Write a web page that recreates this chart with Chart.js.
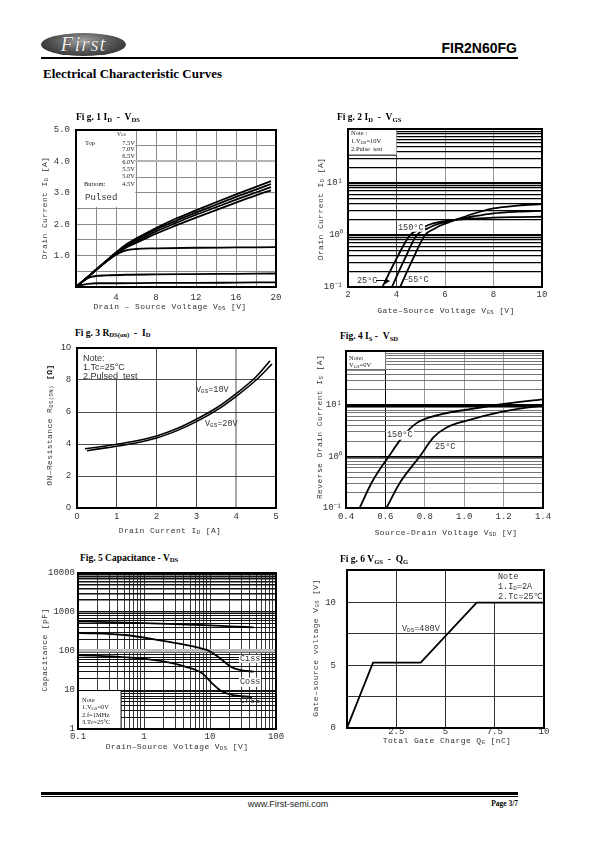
<!DOCTYPE html>
<html><head><meta charset="utf-8">
<script src="https://cdn.jsdelivr.net/npm/chart.js@4/dist/chart.umd.min.js"></script>
<style>
html,body{margin:0;padding:0;background:#fff;}
body{width:595px;height:842px;position:relative;overflow:hidden;font-family:"Liberation Mono",monospace;color:#333;}
canvas{position:absolute;}
.t{position:absolute;white-space:nowrap;line-height:1;}
.l{transform:translate(0,-50%);}
.r{transform:translate(-100%,-50%);}
.c{transform:translate(-50%,-50%);}
.v{transform:translate(-50%,-50%) rotate(-90deg);}
.sb{font-size:70%;position:relative;top:0.25em;}
.ttl{font-family:"Liberation Serif",serif;font-weight:bold;font-size:9.5px;color:#000;}
.ax{font-size:8px;color:#333;letter-spacing:0.4px;}
.nt{font-family:"Liberation Serif",serif;font-size:6.5px;color:#222;}
.lb{font-size:8.5px;color:#333;}
.wb{background:#fff;padding:0 1px;}
.hl{position:absolute;background:#000;}
#logo{position:absolute;left:41px;top:33px;width:85px;height:23px;border-radius:50%;
 background:radial-gradient(ellipse at 50% 35%,#a5a5a5 0%,#5a5a5a 45%,#1c1c1c 100%);}
#logo span{position:absolute;left:50%;top:50%;transform:translate(-50%,-52%);font-family:"Liberation Serif",serif;font-style:italic;font-size:21px;color:#eee;letter-spacing:1px;text-shadow:0 0 1px #000;}
</style></head>
<body>
<div id="logo"><span>First</span></div>
<div class="t r" style="left:517px;top:48px;font-family:'Liberation Sans',sans-serif;font-weight:bold;font-size:14px;color:#000;">FIR2N60FG</div>
<div class="hl" style="left:41px;top:56.5px;width:477px;height:2px;"></div>
<div class="t l" style="left:43px;top:73px;font-family:'Liberation Serif',serif;font-weight:bold;font-size:13px;color:#000;">Electrical Characteristic Curves</div>

<!-- titles -->
<div class="t l ttl" style="left:76px;top:118px;">Fi g. 1 I<span class="sb">D</span>&nbsp; - &nbsp;V<span class="sb">DS</span></div>
<div class="t l ttl" style="left:337px;top:118px;">Fi g. 2 I<span class="sb">D</span>&nbsp; - &nbsp;V<span class="sb">GS</span></div>
<div class="t l ttl" style="left:75px;top:333.5px;">Fi g. 3 R<span class="sb">DS(on)</span>&nbsp; - &nbsp;I<span class="sb">D</span></div>
<div class="t l ttl" style="left:340px;top:337px;">Fig. 4 I<span class="sb">S</span> - &nbsp;V<span class="sb">SD</span></div>
<div class="t l ttl" style="left:80px;top:558.5px;">Fig. 5 Capacitance - V<span class="sb">DS</span></div>
<div class="t l ttl" style="left:340px;top:560px;">Fi g. 6 V<span class="sb">GS</span>&nbsp; - &nbsp;Q<span class="sb">G</span></div>

<!-- axis titles -->
<div class="t c ax" style="left:170px;top:307px;">Drain – Source Voltage V<span class="sb">DS</span> [V]</div>
<div class="t v ax" style="left:45px;top:208px;">Drain Current I<span class="sb">D</span> [A]</div>
<div class="t c ax" style="left:446px;top:311px;">Gate–Source Voltage V<span class="sb">GS</span> [V]</div>
<div class="t v ax" style="left:321px;top:209px;">Drain Current I<span class="sb">D</span> [A]</div>
<div class="t c ax" style="left:170px;top:531px;">Drain Current I<span class="sb">D</span> [A]</div>
<div class="t v ax" style="left:50px;top:425px;">ON–Resistance R<span class="sb">DS(ON)</span> <b style="color:#000">[Ω]</b></div>
<div class="t c ax" style="left:446px;top:533px;">Source–Drain Voltage V<span class="sb">SD</span> [V]</div>
<div class="t v ax" style="left:320px;top:427px;">Reverse Drain Current I<span class="sb">S</span> [A]</div>
<div class="t c ax" style="left:177px;top:747px;">Drain–Source Voltage V<span class="sb">DS</span> [V]</div>
<div class="t v ax" style="left:45px;top:650px;">Capacitance [pF]</div>
<div class="t c ax" style="left:447px;top:740.5px;">Total Gate Charge Q<span class="sb">G</span> [nC]</div>
<div class="t v ax" style="left:316px;top:648px;">Gate–source voltage V<span class="sb">GS</span> [V]</div>

<!-- fig1 legend -->
<div class="t l nt" style="left:117px;top:134.5px;font-size:5.5px;">V<span class="sb">GS</span></div>
<div class="t l nt" style="left:85px;top:142.5px;">Top</div>
<div class="t r nt" style="left:135px;top:142.5px;">7.5V</div>
<div class="t r nt" style="left:135px;top:149px;">7.0V</div>
<div class="t r nt" style="left:135px;top:155.5px;">6.5V</div>
<div class="t r nt" style="left:135px;top:162px;">6.0V</div>
<div class="t r nt" style="left:135px;top:169px;">5.5V</div>
<div class="t r nt" style="left:135px;top:176px;">5.0V</div>
<div class="t l nt" style="left:84px;top:183.5px;">Buttom:</div>
<div class="t r nt" style="left:135px;top:183.5px;">4.5V</div>
<div class="t l lb" style="left:85px;top:198px;font-size:9px;">Pulsed</div>

<!-- fig2 notes -->
<div class="t l nt" style="left:351px;top:133px;">Note :</div>
<div class="t l nt" style="left:351px;top:141px;">1.V<span class="sb">DS</span>=10V</div>
<div class="t l nt" style="left:351px;top:149px;">2.Pulse&nbsp; test</div>
<div class="t l lb wb" style="left:397px;top:227.5px;">150°C</div>
<div class="t l lb" style="left:357px;top:280.5px;">25°C</div>
<div class="hl" style="left:376px;top:280px;width:10px;height:1px;"></div>
<div style="position:absolute;left:385px;top:277.5px;width:0;height:0;border-top:3px solid transparent;border-bottom:3px solid transparent;border-left:5px solid #000;"></div>
<div class="t l lb" style="left:403px;top:279.5px;">−55°C</div>

<!-- fig3 notes -->
<div class="t l" style="left:83px;top:357.5px;font-family:'Liberation Sans',sans-serif;font-size:9px;color:#333;">Note:</div>
<div class="t l" style="left:83px;top:366.5px;font-family:'Liberation Sans',sans-serif;font-size:9px;color:#333;">1.Tc=25°C</div>
<div class="t l" style="left:83px;top:375.5px;font-family:'Liberation Sans',sans-serif;font-size:9px;color:#333;">2.Pulsed&nbsp; test</div>
<div class="t l lb" style="left:196px;top:390px;">V<span class="sb">GS</span>=10V</div>
<div class="t l lb" style="left:205px;top:423.5px;">V<span class="sb">GS</span>=20V</div>

<!-- fig4 notes -->
<div class="t l nt" style="left:349px;top:357.5px;">Note:</div>
<div class="t l nt" style="left:349px;top:364.5px;">V<span class="sb">GS</span>=0V</div>
<div class="t l lb wb" style="left:386px;top:435px;">150°C</div>
<div class="t l lb wb" style="left:434px;top:446.5px;">25°C</div>

<!-- fig5 notes -->
<div class="t l nt" style="left:82px;top:699.5px;">Note</div>
<div class="t l nt" style="left:82px;top:707px;">1.V<span class="sb">GS</span>=0V</div>
<div class="t l nt" style="left:82px;top:714.5px;">2.f=1MHz</div>
<div class="t l nt" style="left:82px;top:722px;">3.Tc=25°C</div>
<div class="t l lb wb" style="left:239px;top:658.5px;">Ciss</div>
<div class="t l lb wb" style="left:239px;top:682px;">Coss</div>
<div class="t l lb" style="left:240px;top:701px;">Crss</div>

<!-- fig6 notes -->
<div class="t l lb" style="left:498px;top:577px;">Note</div>
<div class="t l lb" style="left:498px;top:587px;">1.I<span class="sb">D</span>=2A</div>
<div class="t l lb" style="left:498px;top:597px;">2.Tc=25℃</div>
<div class="t l lb" style="left:402px;top:628.5px;">V<span class="sb">DS</span>=480V</div>

<!-- footer -->
<div class="hl" style="left:41px;top:791.5px;width:477px;height:3px;"></div>
<div class="hl" style="left:41px;top:796px;width:477px;height:1px;"></div>
<div class="t c" style="left:288px;top:804px;font-family:'Liberation Sans',sans-serif;font-size:9px;color:#222;">www.First-semi.com</div>
<div class="t r" style="left:518px;top:803.5px;font-family:'Liberation Serif',serif;font-weight:bold;font-size:7.5px;color:#000;">Page 3/7</div>

<script>
// ================= DATA =================
// Fig 1  ID - VDS
const f1Vds = [0, 1, 2, 3, 4, 5, 6, 8, 10, 12, 14, 16, 18, 19.5];
const f1Id75 = [0, 0.27, 0.55, 0.83, 1.10, 1.35, 1.54, 1.88, 2.18, 2.44, 2.70, 2.95, 3.19, 3.37];
const f1Id70 = [0, 0.27, 0.55, 0.82, 1.09, 1.32, 1.50, 1.83, 2.11, 2.37, 2.62, 2.87, 3.10, 3.28];
const f1Id65 = [0, 0.27, 0.54, 0.81, 1.07, 1.29, 1.45, 1.77, 2.04, 2.30, 2.54, 2.78, 3.01, 3.18];
const f1Id60 = [0, 0.27, 0.54, 0.80, 1.05, 1.25, 1.40, 1.70, 1.96, 2.21, 2.45, 2.69, 2.92, 3.08];
const f1Vds55 = [0, 1, 2, 3, 4, 5, 6, 8, 12, 16, 20];
const f1Id55 = [0, 0.27, 0.54, 0.80, 1.03, 1.17, 1.21, 1.23, 1.25, 1.26, 1.27];
const f1Vds50 = [0, 0.5, 1, 1.5, 2, 3, 5, 8, 12, 16, 20];
const f1Id50 = [0, 0.13, 0.25, 0.32, 0.35, 0.37, 0.39, 0.40, 0.41, 0.42, 0.43];
const f1Vds45 = [0, 0.5, 1, 1.5, 2, 4, 8, 12, 16, 20];
const f1Id45 = [0, 0.06, 0.09, 0.11, 0.12, 0.12, 0.13, 0.13, 0.14, 0.15];
const f1XLabels = [4, 8, 12, 16, 20];
const f1YLabels = [1, 2, 3, 4, 5];

// Fig 2  ID - VGS
const f2Vgs150 = [3.42, 3.94, 4.56, 5.0, 5.31, 5.8, 6.45, 7.2, 8, 9, 10];
const f2Id150 = [0.1, 0.31, 1.0, 1.3, 1.56, 1.8, 1.97, 2.08, 2.17, 2.22, 2.25];
const f2Vgs25 = [3.81, 4.29, 4.84, 5.3, 5.59, 6.0, 6.45, 7.2, 8, 9, 10];
const f2Id25 = [0.1, 0.31, 1.0, 1.35, 1.56, 1.78, 1.97, 2.3, 2.62, 2.82, 2.93];
const f2VgsM55 = [4.15, 4.63, 5.18, 5.6, 5.86, 6.1, 6.45, 7.2, 8, 9, 10];
const f2IdM55 = [0.1, 0.31, 1.0, 1.35, 1.56, 1.72, 1.97, 2.6, 3.26, 3.7, 3.95];
const f2XLabels = [2, 4, 6, 8, 10];
const f2YLabels = [0.1, 1, 10];

// Fig 3  RDS(on) - ID
const f3Id10 = [0.2, 0.5, 1, 1.5, 2, 2.5, 3, 3.5, 4, 4.5, 4.85];
const f3R10 = [3.70, 3.80, 3.98, 4.20, 4.50, 4.95, 5.55, 6.25, 7.15, 8.20, 9.20];
const f3Id20 = [0.25, 0.5, 1, 1.5, 2, 2.5, 3, 3.5, 4, 4.5, 4.9];
const f3R20 = [3.58, 3.68, 3.86, 4.08, 4.38, 4.82, 5.40, 6.10, 6.98, 8.00, 9.00];
const f3XLabels = [0, 1, 2, 3, 4, 5];
const f3YLabels = [0, 2, 4, 6, 8, 10];

// Fig 4  IS - VSD
const f4Vsd150 = [0.469, 0.532, 0.617, 0.693, 0.76, 0.828, 0.913, 1.048, 1.183, 1.4];
const f4Is150 = [0.1, 0.32, 1.0, 2.57, 4.5, 5.8, 7.0, 8.5, 10.3, 12.9];
const f4Vsd25 = [0.605, 0.676, 0.774, 0.845, 0.913, 1.014, 1.183, 1.4];
const f4Is25 = [0.1, 0.32, 1.0, 2.38, 3.7, 5.0, 7.3, 9.9];
const f4XLabels = [0.4, 0.6, 0.8, 1.0, 1.2, 1.4];
const f4YLabels = [0.1, 1, 10];

// Fig 5  Capacitance - VDS
const f5VCiss = [0.1, 0.3, 1, 3, 10, 20, 46];
const f5Ciss = [570, 550, 520, 490, 455, 430, 405];
const f5VCoss = [0.1, 0.52, 1.66, 5.3, 9.5, 12, 15.2, 21.5, 30, 46];
const f5Coss = [293, 257, 191, 134, 102, 80, 59, 38, 32, 29.6];
const f5VCrss = [0.1, 0.52, 1.66, 4.2, 7.6, 10.7, 15.2, 21.5, 43];
const f5Crss = [79, 69, 56.5, 40, 27, 15, 9.1, 7.5, 6.6];
const f5XLabels = [0.1, 1, 10, 100];
const f5YLabels = [1, 10, 100, 1000, 10000];

// Fig 6  VGS - QG
const f6Qg = [0, 1.32, 3.74, 6.58, 10];
const f6Vgs = [0, 5.22, 5.22, 10, 10];
const f6XLabels = [2.5, 5, 7.5, 10];
const f6YLabels = [0, 5, 10];

// ================= HELPERS =================
const PADL = 50, PADT = 8, PADR = 14, PADB = 24;
const pts = (xs, ys) => xs.map((x, i) => ({x: x, y: ys[i]}));
const near = (a, b) => Math.abs(a - b) <= 1e-9 * Math.max(1, Math.abs(b));
const has = (list, v) => list.some(t => near(v, t));
const range = (a, b, s) => { const r = []; for (let v = a; v <= b + 1e-9; v += s) r.push(+v.toFixed(6)); return r; };
const logGrid = (lo, hi) => { const r = []; for (let e = lo; e < hi; e++) for (let m = 1; m < 10; m++) r.push(+(m * Math.pow(10, e)).toPrecision(6)); r.push(+Math.pow(10, hi).toPrecision(6)); return r; };
const supTxt = v => ({0.1: '10\u207B\u00B9', 1: '10\u2070', 10: '10\u00B9'})[v];

const deco = {
  id: 'deco',
  beforeDatasetsDraw(chart, args, o) {
    const {ctx} = chart; const xs = chart.scales.x, ys = chart.scales.y;
    (o.masks || []).forEach(m => {
      const x0 = xs.getPixelForValue(m[0]), y0 = ys.getPixelForValue(m[1]);
      const x1 = xs.getPixelForValue(m[2]), y1 = ys.getPixelForValue(m[3]);
      const L = Math.min(x0, x1), R = Math.max(x0, x1), T = Math.min(y0, y1), B = Math.max(y0, y1);
      ctx.save(); ctx.fillStyle = '#fff'; ctx.fillRect(L, T, R - L, B - T);
      ctx.strokeStyle = '#000'; ctx.lineWidth = 1;
      const e = m[4] || '';
      ctx.beginPath();
      if (e.includes('b')) { ctx.moveTo(L, B); ctx.lineTo(R, B); }
      if (e.includes('t')) { ctx.moveTo(L, T); ctx.lineTo(R, T); }
      if (e.includes('r')) { ctx.moveTo(R, T); ctx.lineTo(R, B); }
      ctx.stroke(); ctx.restore();
    });
  },
  afterDatasetsDraw(chart) {
    const {ctx, chartArea: a} = chart;
    ctx.save(); ctx.strokeStyle = '#000'; ctx.lineWidth = 2;
    ctx.strokeRect(a.left, a.top, a.right - a.left, a.bottom - a.top); ctx.restore();
  }
};
Chart.register(deco);

function axis(spec, isX) {
  return {
    type: spec.type || 'linear', min: spec.min, max: spec.max,
    position: isX ? 'bottom' : 'left',
    afterBuildTicks: s => { s.ticks = spec.grid.map(v => ({value: v})); },
    afterFit: s => { if (isX) s.height = PADB; else s.width = PADL; s.paddingLeft = 0; s.paddingRight = 0; s.paddingTop = 0; s.paddingBottom = 0; },
    ticks: { autoSkip: false, maxRotation: 0, minRotation: 0, padding: spec.pad, color: '#333',
             font: {family: spec.fam || 'Liberation Mono', size: spec.fs || 9},
             callback: v => has(spec.labels, v) ? spec.fmt(v) : '' },
    grid: { drawTicks: false,
            color: c => spec.gc(c.tick ? c.tick.value : 0),
            lineWidth: c => spec.gw(c.tick ? c.tick.value : 0) },
    border: { display: false }
  };
}

function ds(data, w) {
  return { data: data, borderColor: '#000', borderWidth: w || 1.8, pointRadius: 0, fill: false, cubicInterpolationMode: 'monotone' };
}

function make(r, datasets, xs, ys, masks) {
  const c = document.createElement('canvas');
  const w = (r.R - r.L) + PADL + PADR, h = (r.B - r.T) + PADT + PADB;
  c.width = w; c.height = h;
  c.style.left = (r.L - PADL) + 'px'; c.style.top = (r.T - PADT) + 'px';
  c.style.width = w + 'px'; c.style.height = h + 'px';
  document.body.insertBefore(c, document.body.firstChild);
  new Chart(c, {
    type: 'line',
    data: { datasets: datasets },
    options: {
      responsive: false, animation: false, devicePixelRatio: 1,
      layout: { padding: {left: 0, top: PADT, right: PADR, bottom: 0} },
      plugins: { legend: {display: false}, tooltip: {enabled: false}, deco: {masks: masks || []} },
      scales: { x: axis(xs, true), y: axis(ys, false) }
    }
  });
}

// ================= FIG 1 =================
make({L: 76, T: 130, R: 276, B: 287},
  [ds(pts(f1Vds, f1Id75)), ds(pts(f1Vds, f1Id70)), ds(pts(f1Vds, f1Id65)), ds(pts(f1Vds, f1Id60)),
   ds(pts(f1Vds55, f1Id55)), ds(pts(f1Vds50, f1Id50)), ds(pts(f1Vds45, f1Id45))],
  {min: 0, max: 20, grid: range(0, 20, 2), labels: f1XLabels, fmt: v => String(v), pad: 5.5,
   gc: v => '#8a8a8a', gw: v => 1},
  {min: 0, max: 5, grid: range(0, 5, 0.5), labels: f1YLabels, fmt: v => v.toFixed(1), pad: 6,
   gc: v => near(v, 4) ? '#b5b5b5' : '#8a8a8a', gw: v => near(v, 4) ? 2 : 1},
  [[0, 2.55, 5.93, 5]]);

// ================= FIG 2 =================
make({L: 348, T: 129, R: 542, B: 287},
  [ds(pts(f2Vgs150, f2Id150)), ds(pts(f2Vgs25, f2Id25)), ds(pts(f2VgsM55, f2IdM55))],
  {min: 2, max: 10, grid: range(2, 10, 2), labels: f2XLabels, fmt: v => String(v), pad: 2,
   gc: v => near(v, 4) ? '#444' : '#9a9a9a', gw: v => 1},
  {type: 'logarithmic', min: 0.1, max: 110, grid: logGrid(-1, 2).concat([110]), labels: f2YLabels, fmt: supTxt, pad: 5,
   gc: v => '#000', gw: v => (near(v, 1) || near(v, 10)) ? 2.2 : 1.3},
  [[2, 34.5, 4, 110, 'b']]);

// ================= FIG 3 =================
make({L: 77, T: 348, R: 276, B: 508},
  [ds(pts(f3Id10, f3R10), 1.6), ds(pts(f3Id20, f3R20), 1.6)],
  {min: 0, max: 5, grid: range(0, 5, 1), labels: f3XLabels, fmt: v => String(v), pad: 3.5, fam: 'Liberation Sans',
   gc: v => near(v, 4) ? '#a8a8a8' : '#222', gw: v => near(v, 4) ? 2 : 0.8},
  {min: 0, max: 10, grid: range(0, 10, 2), labels: f3YLabels, fmt: v => String(v), pad: 6, fam: 'Liberation Sans',
   gc: v => '#222', gw: v => 0.8},
  [[0, 8.06, 1.6, 10]]);

// ================= FIG 4 =================
make({L: 346, T: 351, R: 543, B: 508},
  [ds(pts(f4Vsd150, f4Is150)), ds(pts(f4Vsd25, f4Is25))],
  {min: 0.4, max: 1.4, grid: range(0.4, 1.4, 0.2), labels: f4XLabels, fmt: v => v.toFixed(1), pad: 3.5,
   gc: v => near(v, 0.6) ? '#000' : '#9a9a9a', gw: v => 1},
  {type: 'logarithmic', min: 0.1, max: 112, grid: logGrid(-1, 2).concat([112]), labels: f4YLabels, fmt: supTxt, pad: 4,
   gc: v => (near(v, 1) || near(v, 10)) ? '#000' : '#666', gw: v => near(v, 10) ? 3 : (near(v, 1) ? 1.8 : 0.9)},
  [[0.4, 48, 0.6, 112, 'b']]);

// ================= FIG 5 =================
make({L: 78, T: 573, R: 276, B: 729},
  [ds(pts(f5VCiss, f5Ciss)), ds(pts(f5VCoss, f5Coss)), ds(pts(f5VCrss, f5Crss))],
  {type: 'logarithmic', min: 0.1, max: 100, grid: logGrid(-1, 2), labels: f5XLabels, fmt: v => String(v), pad: 2.5,
   gc: v => '#222', gw: v => 0.9},
  {type: 'logarithmic', min: 1, max: 10000, grid: logGrid(0, 4), labels: f5YLabels, fmt: v => String(v), pad: 3,
   gc: v => near(v, 100) ? '#bdbdbd' : '#111', gw: v => near(v, 100) ? 3.5 : (v >= 1000 ? 1.6 : 1)},
  [[0.1, 1, 0.45, 9.7, 'tr']]);

// ================= FIG 6 =================
const f6d = ds(pts(f6Qg, f6Vgs)); f6d.cubicInterpolationMode = 'default'; f6d.tension = 0;
make({L: 347, T: 570, R: 544, B: 728},
  [f6d],
  {min: 0, max: 10, grid: range(0, 10, 2.5), labels: f6XLabels, fmt: v => String(v), pad: -1.5,
   gc: v => '#333', gw: v => 1},
  {min: 0, max: 12.6, grid: range(0, 10, 2.5).concat([12.6]), labels: f6YLabels, fmt: v => String(v), pad: 11,
   gc: v => '#333', gw: v => 1},
  [[7.45, 10.05, 10, 12.6]]);
</script>
</body></html>
